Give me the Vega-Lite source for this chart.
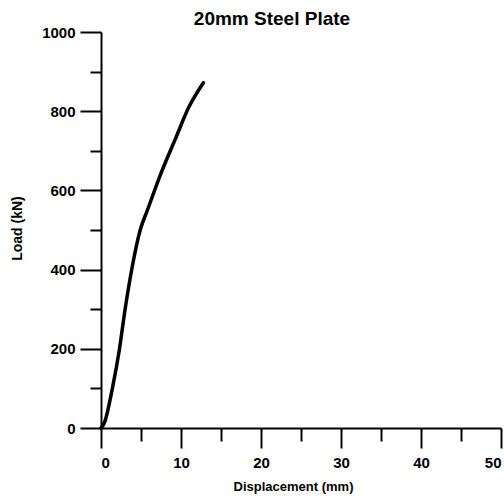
{
  "$schema": "https://vega.github.io/schema/vega-lite/v6.json",
  "width": 400,
  "height": 396,
  "autosize": {"type": "none"},
  "padding": {"left": 101, "top": 32, "right": 3, "bottom": 73},
  "background": "white",
  "title": {
    "text": "20mm Steel Plate",
    "anchor": "middle",
    "frame": "group",
    "dx": -29,
    "offset": -19,
    "baseline": "alphabetic",
    "font": "Liberation Sans",
    "fontSize": 19,
    "fontWeight": "bold",
    "color": "black"
  },
  "config": {
    "view": {"stroke": null},
    "axis": {
      "grid": false,
      "domainColor": "black",
      "domainWidth": 2,
      "tickColor": "black",
      "tickWidth": 2,
      "labelFont": "Liberation Sans",
      "labelFontWeight": "bold",
      "labelFontSize": 15,
      "labelColor": "black",
      "titleFont": "Liberation Sans",
      "titleFontWeight": "bold",
      "titleFontSize": 13,
      "titleColor": "black"
    }
  },
  "data": {
    "values": [
      {"disp": 0, "load": 0},
      {"disp": 0.4, "load": 12},
      {"disp": 1.46, "load": 104},
      {"disp": 2.29, "load": 197},
      {"disp": 3.0, "load": 298},
      {"disp": 3.83, "load": 399},
      {"disp": 4.9, "load": 500},
      {"disp": 5.8, "load": 550},
      {"disp": 7.4, "load": 638},
      {"disp": 9.3, "load": 730},
      {"disp": 11.0, "load": 811},
      {"disp": 12.8, "load": 872}
    ]
  },
  "mark": {"type": "line", "color": "black", "strokeWidth": 3.5, "strokeCap": "round", "strokeJoin": "round", "interpolate": "monotone"},
  "encoding": {
    "x": {
      "field": "disp",
      "type": "quantitative",
      "scale": {"domain": [0, 50], "nice": false},
      "axis": {
        "title": "Displacement (mm)",
        "values": [0, 5, 10, 15, 20, 25, 30, 35, 40, 45, 50],
        "labelExpr": "datum.value % 10 === 0 ? datum.label : ''",
        "tickSize": {"condition": {"test": "datum.value % 10 === 0", "value": 20}, "value": 13},
        "labelPadding": 7,
        "titleX": 192,
        "titleY": 58,
        "titleBaseline": "middle"
      }
    },
    "y": {
      "field": "load",
      "type": "quantitative",
      "scale": {"domain": [0, 1000], "nice": false},
      "axis": {
        "title": "Load (kN)",
        "values": [0, 100, 200, 300, 400, 500, 600, 700, 800, 900, 1000],
        "labelExpr": "datum.value % 200 === 0 ? datum.label : ''",
        "format": "d",
        "tickSize": {"condition": {"test": "datum.value % 200 === 0", "value": 21}, "value": 11},
        "labelPadding": 5,
        "titleX": -84,
        "titleY": 196,
        "titleAngle": -90,
        "titleFontSize": 14,
        "titleBaseline": "middle"
      }
    }
  }
}
